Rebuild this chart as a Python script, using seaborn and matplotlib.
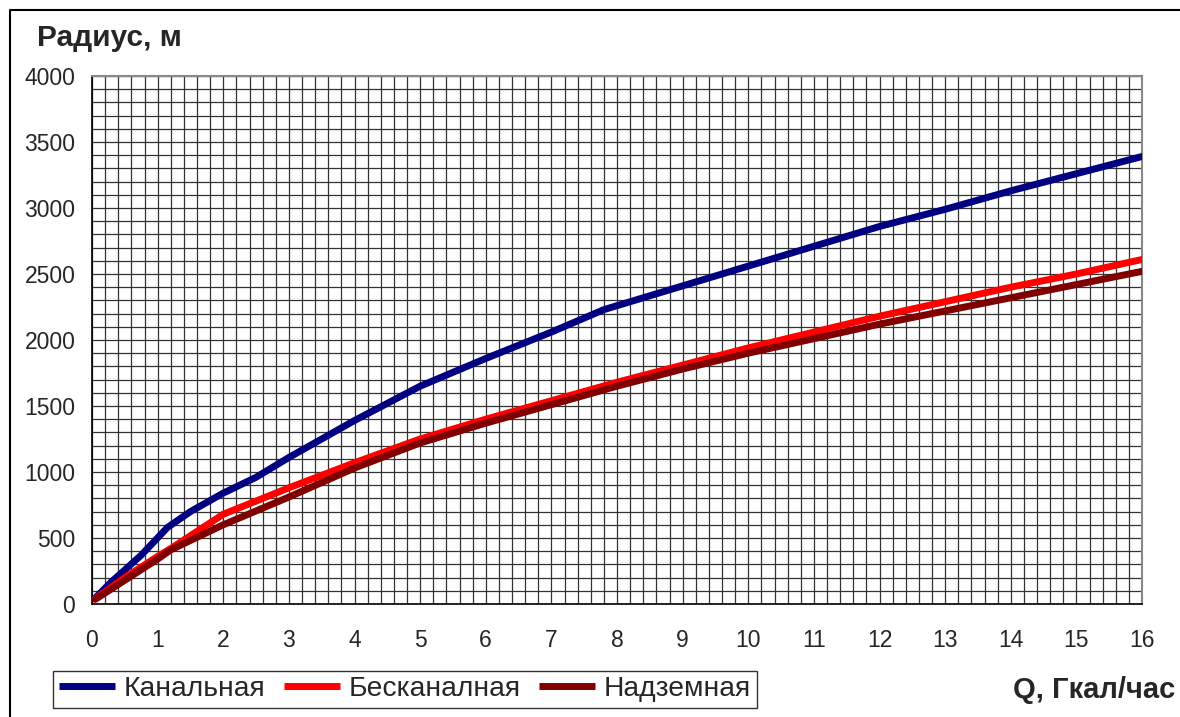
import matplotlib
matplotlib.use("Agg")
import matplotlib.pyplot as plt
import seaborn as sns
import pandas as pd
from matplotlib.lines import Line2D

# Data
kanal_q = [0.05, 0.3, 0.5, 0.75, 1.15, 1.5, 2, 2.5, 3, 4, 5, 6, 7, 7.8, 9, 10, 11, 12, 13, 14, 15, 16]
kanal_r = [45, 170, 258, 370, 580, 700, 840, 960, 1110, 1390, 1650, 1860, 2060, 2230, 2410, 2560, 2710, 2860, 2990, 3130, 3260, 3390]

beskanal_q = [0.05, 0.5, 1, 1.2, 2, 3, 4, 5, 6, 7, 8, 9, 10, 11, 12, 13, 14, 15, 16]
beskanal_r = [40, 200, 360, 420, 680, 880, 1070, 1250, 1400, 1540, 1680, 1810, 1940, 2060, 2180, 2290, 2400, 2500, 2610]

nadzem_q = [0.05, 0.5, 1, 1.2, 2, 3, 4, 5, 6, 7, 8, 9, 10, 11, 12, 13, 14, 15, 16]
nadzem_r = [35, 180, 340, 410, 600, 810, 1030, 1220, 1370, 1510, 1650, 1780, 1900, 2010, 2120, 2220, 2320, 2420, 2520]

series_names = ['Канальная', 'Бесканалная', 'Надземная']
series_colors = ['#000080', '#FF0000', '#800000']

df = pd.concat([
    pd.DataFrame({'Q': kanal_q, 'R': kanal_r, 'Тип': series_names[0]}),
    pd.DataFrame({'Q': beskanal_q, 'R': beskanal_r, 'Тип': series_names[1]}),
    pd.DataFrame({'Q': nadzem_q, 'R': nadzem_r, 'Тип': series_names[2]}),
])

sns.set_style("white")
plt.rcParams['font.family'] = ['Liberation Sans', 'DejaVu Sans']

fig = plt.figure(figsize=(11.8, 7.17), dpi=100)
ax = fig.add_axes([92 / 1180, 113 / 717, 1050 / 1180, 528 / 717])

sns.lineplot(data=df, x='Q', y='R', hue='Тип', palette=series_colors,
             hue_order=series_names, sort=False, linewidth=5, ax=ax,
             legend=False, zorder=3)

ax.set_xlim(0, 16)
ax.set_ylim(0, 4000)
ax.set_xticks(range(0, 17))
ax.set_yticks(range(0, 4001, 500))
ax.set_xticks([i * 0.2 for i in range(81)], minor=True)
ax.set_yticks(range(0, 4001, 100), minor=True)
ax.grid(which='both', color='#333333', linewidth=0.9, zorder=0)
ax.set_axisbelow(True)
ax.tick_params(axis='both', which='major', labelsize=16.5, length=6, width=1,
               direction='out', color='black', pad=6)
ax.tick_params(axis='x', which='major', pad=12)
ax.tick_params(which='minor', length=0)
ax.set_xlabel('')
ax.set_ylabel('')
for s in ['left', 'bottom']:
    ax.spines[s].set_color('black')
    ax.spines[s].set_linewidth(1.2)
for s in ['top', 'right']:
    ax.spines[s].set_color('#888888')
    ax.spines[s].set_linewidth(1.5)

# Legend
handles = [Line2D([], [], color=c, linewidth=5, solid_capstyle='butt') for c in series_colors]
leg = fig.legend(handles, series_names, loc='lower left',
                 bbox_to_anchor=(53 / 1180, 9 / 717), ncol=3, fontsize=20.3,
                 frameon=True, fancybox=False, handlelength=2.0,
                 handletextpad=0.3, columnspacing=0.65, borderpad=0.2,
                 borderaxespad=0)
leg.get_frame().set_edgecolor('black')
leg.get_frame().set_linewidth(1.0)

fig.text(37 / 1180, 1 - 38 / 717, 'Радиус, м', fontsize=21.5, fontweight='bold',
         ha='left', va='center')
fig.text(1175 / 1180, 1 - 690 / 717, 'Q, Гкал/час', fontsize=21, fontweight='bold',
         ha='right', va='center')

# outer chart border (only top and left edges are inside the image)
fig.add_artist(Line2D([10 / 1180, 10 / 1180, 1.0], [0.0, 1 - 10 / 717, 1 - 10 / 717],
                      transform=fig.transFigure, color='black', linewidth=1.5))

fig.savefig('out.png', dpi=100)
